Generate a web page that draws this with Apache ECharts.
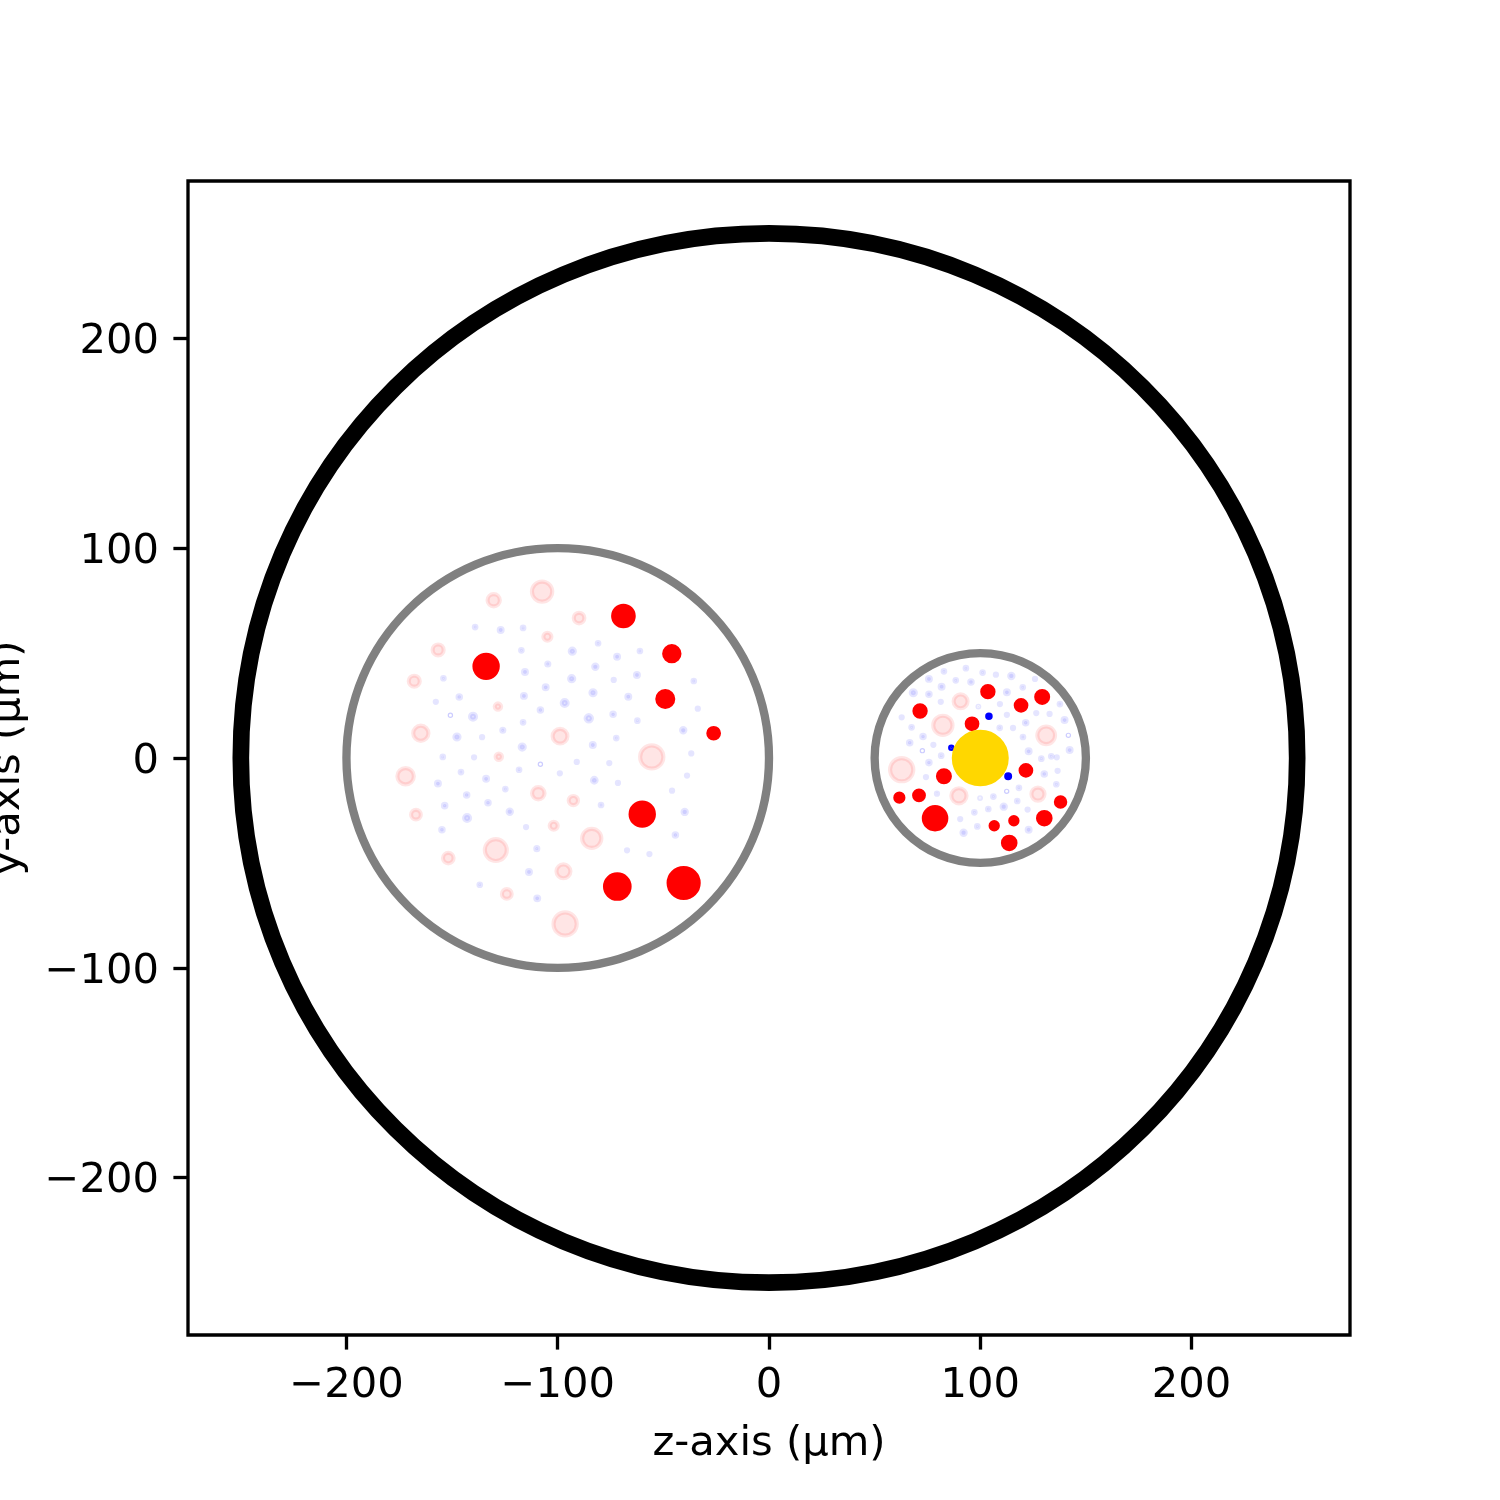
<!DOCTYPE html>
<html>
<head>
<meta charset="utf-8">
<title>Compartments in z-y plane</title>
<style>html,body{margin:0;padding:0;background:#fff}#chart{width:1500px;height:1500px}</style>
<script src="https://cdn.jsdelivr.net/npm/echarts@6/dist/echarts.min.js"></script>
</head>
<body>
<div id="chart"></div>
<script>
// Every sphere is [z, y, radius] in micrometres.
const tickValues = [-200, -100, 0, 100, 200];
const axisLimit = 275;

const outerBoundary = [[0, 0, 250]];
const compartments = [[-100, 0, 100], [100, 0, 50]];

const fadedRed = [
  [-107.4, 79.3, 4.8], [-130.3, 75.2, 2.9], [-104.9, 57.8, 1.9], [-156.6, 51.5, 2.6],
  [-167.9, 36.6, 2.6], [-128.3, 24.5, 1.5], [-164.8, 11.8, 3.6], [-127.9, 0.6, 1.5],
  [-98.9, 10.4, 3.5], [-89.9, 66.7, 2.5], [-55.5, 0.5, 5.5], [-172, -8.7, 3.9],
  [-167.1, -27, 2.3], [-109.2, -16.8, 2.95], [-101.9, -32.3, 1.9], [-129.3, -43.9, 5.2],
  [-151.8, -47.7, 2.5], [-124.1, -64.8, 2.3], [-97.3, -54, 3.3], [-96.5, -79.1, 5.5],
  [-92.6, -20.3, 2.2], [-83.9, -38.3, 4.55],
  [90.7, 27, 3.3], [82.3, 15.6, 4.55], [62.8, -5.6, 5.5], [89.9, -18, 3.6],
  [131.2, 10.8, 4.2], [127.3, -17.2, 3.1]
];

const fadedBlue = [
  [-139.1, 62.4, 0.6], [-127, 61, 0.9], [-116.4, 62, 0.6], [-117.2, 51.3, 0.6],
  [-104.7, 44.8, 0.7], [-115.5, 41, 0.9], [-105.7, 33.7, 0.9], [-116, 29.6, 0.9],
  [-108.2, 22.9, 0.8], [-116.4, 17, 0.6], [-126, 13.2, 0.7], [-116.8, 5.2, 1.2],
  [-135.8, 9.9, 0.5], [-147.7, 10, 1.2], [-140.1, 19.7, 1.4], [-146.6, 29.1, 0.8],
  [-157.7, 26.8, 0.5], [-154.1, 38, 0.6], [-154.4, 0.5, 0.6], [-139.6, 0.3, 0.5],
  [-80.9, 54.7, 0.6], [-93.1, 50.9, 1.2], [-71.9, 48.3, 0.9], [-61.1, 51, 0.6],
  [-82.2, 43.5, 1], [-93.4, 37.8, 1.2], [-73.5, 37.2, 0.5], [-62.5, 39.6, 0.9],
  [-35.6, 36.7, 0.6], [-83.3, 31.1, 1.2], [-66.6, 29.2, 0.9], [-33.7, 23.5, 0.5],
  [-96.7, 26.2, 1.4], [-85.3, 18.9, 1.5], [-73.8, 20.8, 0.8], [-62.3, 17.8, 0.6],
  [-40.6, 13.2, 1], [-72.3, 9.5, 0.6], [-83.4, 6.2, 0.9], [-36.8, 2.2, 0.5],
  [-91, -1.9, 0.5], [-145.8, -6.7, 0.6], [-133.9, -9.9, 0.9], [-118.3, -5.6, 0.6],
  [-99, -7.3, 0.5], [-156.7, -12.2, 0.9], [-124.8, -14.8, 0.6], [-143.1, -17.6, 0.8],
  [-133, -21.3, 0.8], [-153.5, -22.7, 0.8], [-122.7, -25.6, 1], [-142.9, -28.6, 1.4],
  [-115, -32.9, 0.5], [-154.8, -34.2, 0.8], [-109.9, -43.2, 0.7], [-113.6, -54.3, 0.9],
  [-136.9, -60.4, 0.6], [-109.7, -66.9, 0.9], [-75.6, -2.4, 0.5], [-82.7, -10.6, 1.1],
  [-71.5, -11.9, 0.5], [-79.5, -22.4, 0.6], [-45.9, -15.6, 0.5], [-38.8, -8.4, 0.5],
  [-39.9, -25.7, 1], [-44.3, -36.7, 0.8], [-67.2, -44, 0.5], [-56.6, -45.8, 0.5],
  [93.2, 42.8, 0.6], [82.8, 41.3, 0.6], [75.7, 37.7, 0.9], [88.4, 37, 0.6],
  [95.6, 36.2, 0.8], [81.7, 34, 0.9], [68.3, 31.1, 1.2], [75.7, 30.4, 0.8],
  [81.3, 26.8, 0.5], [99.1, 24.5, 0.4], [62.8, 19.4, 0.5], [67.5, 14.6, 0.6],
  [72.9, 10.2, 0.8], [66.6, 7.3, 0.8], [77.8, 6.3, 0.5], [81.5, 1.1, 0.6],
  [101.1, 40.7, 0.6], [107.4, 39.7, 0.5], [114.7, 39.1, 1], [125.9, 37.7, 0.5],
  [120.1, 33.7, 0.6], [112.6, 31.3, 0.9], [109.3, 25.7, 0.5], [137.7, 25.7, 0.6],
  [126.5, 21.4, 0.5], [132.8, 21, 0.5], [112.6, 20.6, 0.5], [139.9, 18.1, 0.9],
  [121.5, 16.8, 0.8], [109.2, 14.4, 0.6], [115.5, 14.3, 0.5], [120.2, 10, 0.6],
  [122.9, 3.2, 0.9], [133.6, 0.8, 0.6], [142.3, 3.8, 0.9], [128.9, -0.3, 0.6],
  [136.2, 0.3, 0.5], [75.7, -2.2, 0.8], [74.3, -9.1, 0.5], [79.5, -17, 0.5],
  [90.5, -29.1, 0.5], [97.2, -25.9, 0.6], [98.6, -32.6, 0.6], [92.1, -35.6, 1],
  [99.9, -19.1, 0.4], [130.3, -7.6, 0.8], [136.6, -6.1, 0.5], [136, -12.5, 0.6],
  [118.3, -14.2, 0.6], [106.2, -18.4, 0.6], [117.5, -20.5, 0.6], [111.1, -23.2, 1],
  [122.4, -24.6, 0.5], [103.8, -24.3, 0.6], [122.9, -34.2, 0.9]
];

const hollowBlue = [
  [-150.8, 20.4, 1], [-108.2, -3, 1], [72.6, 3.5, 1], [141.7, 10.8, 1], [112.5, -15.9, 1]
];

const solidRed = [
  [-133.9, 43.7, 5.5], [-68.9, 67.7, 4.85], [-46, 49.7, 3.6], [-49.1, 28.1, 3.75],
  [-26.2, 11.8, 2.5], [-60, -26.8, 5.5], [-71.8, -61.3, 5.8], [-40.4, -59.6, 7.1],
  [71.5, 22.4, 2.65], [96.1, 16.3, 2.5], [103.6, 31.6, 2.65], [119.3, 25.1, 2.5],
  [129.3, 29.1, 2.8], [82.8, -8.7, 2.8], [61.7, -18.9, 1.9], [71, -17.8, 2.3],
  [78.6, -28.7, 5.3], [121.6, -5.9, 2.5], [138, -21, 2.2], [130.3, -28.7, 2.95],
  [115.9, -29.9, 1.7], [106.6, -32.3, 1.7], [113.7, -40.5, 2.95]
];

const solidBlue = [[86.3, 4.9, 0.55], [104.1, 19.9, 0.8], [113.2, -8.7, 0.9]];

const goldCore = [[100, 0, 12.5]];

// Radii come from the axis scales, so circles follow the plot's aspect ratio.
function sphereSeries(name, data, style) {
  return {
    type: 'custom',
    name: name,
    coordinateSystem: 'cartesian2d',
    silent: true,
    animation: false,
    clip: false,
    data: data,
    encode: { x: 0, y: 1 },
    renderItem: function (params, api) {
      const centre = api.coord([api.value(0), api.value(1)]);
      const radius = api.size([api.value(2), api.value(2)]);
      return {
        type: 'ellipse',
        shape: { cx: centre[0], cy: centre[1], rx: radius[0], ry: radius[1] },
        style: style
      };
    }
  };
}

const fontFamily = '"DejaVu Sans"';
const fontSize = 41.67;
const spineWidth = 3.33;

function tickText(v) {
  return String(v).replace('-', '\u2212');
}

function axisBase(axisName, nameGap, labelMargin) {
  return {
    type: 'value',
    min: -axisLimit,
    max: axisLimit,
    name: axisName,
    nameLocation: 'middle',
    nameGap: nameGap,
    nameTextStyle: { fontFamily: fontFamily, fontSize: fontSize, color: '#000' },
    splitLine: { show: false },
    axisLine: { show: false, onZero: false },
    axisTick: {
      show: true, length: 14.6, inside: false,
      lineStyle: { color: '#000', width: spineWidth },
      customValues: tickValues
    },
    axisLabel: {
      show: true,
      margin: labelMargin,
      fontFamily: fontFamily,
      fontSize: fontSize,
      color: '#000',
      customValues: tickValues,
      formatter: tickText
    }
  };
}

const xAxis = axisBase('z-axis (μm)', 88, 30);
const yAxis = axisBase('y-axis (μm)', 159, 29);
// Vertical tick labels sit slightly under their tick marks.
yAxis.axisLabel.formatter = function (v) { return '{t|' + tickText(v) + '}'; };
yAxis.axisLabel.rich = {
  t: { fontFamily: fontFamily, fontSize: fontSize, color: '#000', padding: [8, 0, 0, 0] }
};

const chart = echarts.init(document.getElementById('chart'), null, { renderer: 'canvas' });
chart.setOption({
  animation: false,
  backgroundColor: '#fff',
  grid: {
    show: true,
    left: 188, top: 181, width: 1162, height: 1154,
    containLabel: false,
    outerBoundsMode: 'none',
    borderColor: '#000', borderWidth: spineWidth,
    backgroundColor: 'transparent'
  },
  xAxis: xAxis,
  yAxis: yAxis,
  series: [
    sphereSeries('Boundary', outerBoundary, { fill: 'none', stroke: '#000', lineWidth: 16.67 }),
    sphereSeries('Compartments', compartments, { fill: 'none', stroke: '#808080', lineWidth: 8.33 }),
    sphereSeries('Faded red', fadedRed, { fill: 'rgba(255,0,0,0.1)', stroke: 'rgba(255,0,0,0.1)', lineWidth: 4.17 }),
    sphereSeries('Faded blue', fadedBlue, { fill: 'rgba(0,0,255,0.1)', stroke: 'rgba(0,0,255,0.1)', lineWidth: 4.17 }),
    sphereSeries('Hollow blue', hollowBlue, { fill: 'none', stroke: 'rgba(0,0,255,0.2)', lineWidth: 1.2 }),
    sphereSeries('Red', solidRed, { fill: '#f00', stroke: '#f00', lineWidth: 4.17 }),
    sphereSeries('Blue', solidBlue, { fill: '#00f', stroke: '#00f', lineWidth: 4.17 }),
    sphereSeries('Core', goldCore, { fill: '#ffd700', stroke: '#ffd700', lineWidth: 4.17 })
  ]
});
</script>
</body>
</html>
